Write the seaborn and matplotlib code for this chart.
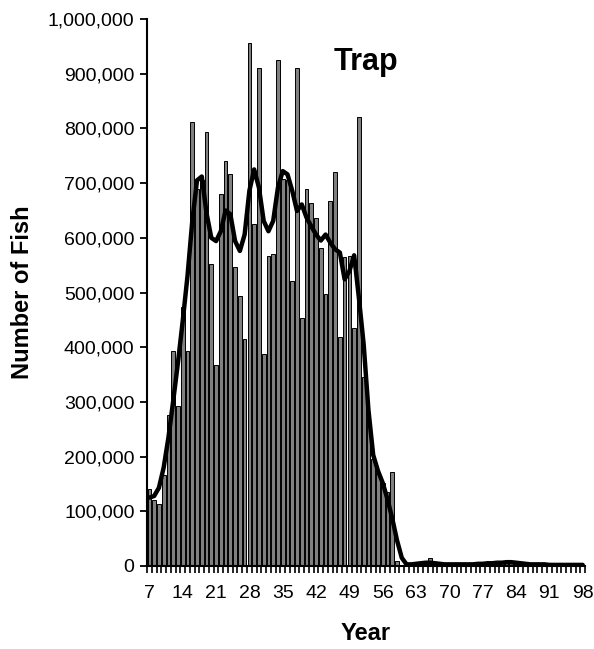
import numpy as np
import pandas as pd
import matplotlib
matplotlib.use("Agg")
import matplotlib.pyplot as plt
import seaborn as sns
from matplotlib.ticker import FuncFormatter, FixedLocator

# Trap catch by year
years = list(range(7, 99))
catch = [
    140000, 121000, 113000, 166000, 276000, 393000, 293000, 474000, 393000, 811000,   # 7-16
    690000, 705000, 793000, 553000, 367000, 680000, 741000, 716000, 546000, 494000,   # 17-26
    415000, 957000, 625000, 911000, 387000, 567000, 571000, 925000, 707000, 705000,   # 27-36
    521000, 911000, 453000, 690000, 663000, 637000, 581000, 497000, 667000, 720000,   # 37-46
    418000, 565000, 567000, 436000, 821000, 345000, 270000, 196000, 172000, 152000,   # 47-56
    135000, 171000, 10000, 2000, 1000, 1000, 3000, 4000, 5000, 15000,                 # 57-66
    4000, 2000, 2000, 1000, 1000, 2000, 2000, 1000, 2000, 3000,                       # 67-76
    3000, 4000, 4000, 5000, 5000, 6000, 6000, 5000, 4000, 3000,                       # 77-86
    2000, 2000, 2000, 2000, 1000, 1000, 1000, 1000, 1000, 1000,                       # 87-96
    1000, 1000,                                                                       # 97-98
]
# Smoothed trend of the catch
trend = [
    125000, 128000, 143000, 180000, 235000, 302000, 372000, 448000, 530000, 630000,   # 7-16
    705000, 712000, 645000, 600000, 594000, 612000, 650000, 643000, 594000, 576000,   # 17-26
    606000, 686000, 725000, 692000, 631000, 612000, 631000, 692000, 722000, 716000,   # 27-36
    686000, 649000, 661000, 637000, 621000, 606000, 595000, 606000, 591000, 579000,   # 37-46
    573000, 524000, 539000, 568000, 490000, 405000, 285000, 203000, 174000, 152000,   # 47-56
    122000, 87000, 47000, 15000, 3000, 3000, 4000, 5000, 6000, 6000,                  # 57-66
    5000, 4000, 3000, 3000, 3000, 3000, 3000, 3000, 3000, 4000,                       # 67-76
    4000, 5000, 5000, 6000, 6000, 7000, 7000, 6000, 5000, 4000,                       # 77-86
    3000, 3000, 3000, 3000, 2000, 2000, 2000, 2000, 2000, 2000,                       # 87-96
    2000, 2000,                                                                       # 97-98
]
y_ticks = [0, 100000, 200000, 300000, 400000, 500000, 600000, 700000, 800000, 900000, 1000000]
label_every = 7

df = pd.DataFrame({"year": years, "catch": catch, "trend": trend})
df["pos"] = np.arange(len(df))

sns.set_theme(style="white")
plt.rcParams["font.family"] = ["Liberation Sans", "DejaVu Sans"]
plt.rcParams["text.color"] = "black"
plt.rcParams["axes.labelcolor"] = "black"
plt.rcParams["xtick.color"] = "black"
plt.rcParams["ytick.color"] = "black"

fig = plt.figure(figsize=(5.94, 6.49), dpi=100)
ax = fig.add_axes([0.2475, 0.1279, 0.7375, 0.8428])

sns.barplot(data=df, x="year", y="catch", order=years, color="#808080",
            saturation=1, width=0.78, edgecolor="black", linewidth=0.7, ax=ax)
sns.lineplot(data=df, x="pos", y="trend", color="black", linewidth=3.2, ax=ax,
             solid_joinstyle="round", solid_capstyle="round")

ax.set_xlim(-0.5, len(years) - 0.5)
ax.set_ylim(0, 1000000)
ax.set_yticks(y_ticks)
ax.yaxis.set_major_formatter(FuncFormatter(lambda v, p: f"{int(v):,}"))

label_pos = [i for i, yr in enumerate(years) if yr % label_every == 0]
ax.xaxis.set_major_locator(FixedLocator(label_pos))
ax.set_xticklabels([str(years[i]) for i in label_pos])
ax.xaxis.set_minor_locator(FixedLocator(np.arange(-0.5, len(years), 1.0)))

ax.tick_params(axis="y", which="major", direction="out", length=5, width=1.3,
               color="black", labelcolor="black", labelsize=14, pad=4, left=True)
ax.tick_params(axis="x", which="major", length=0, labelsize=14, labelcolor="black",
               pad=14, bottom=True)
ax.tick_params(axis="x", which="minor", direction="out", length=5, width=1.2,
               color="black", bottom=True)

for s in ["top", "right"]:
    ax.spines[s].set_visible(False)
for s in ["left", "bottom"]:
    ax.spines[s].set_color("black")
    ax.spines[s].set_linewidth(1.5)

ax.set_xlabel("Year", fontsize=17, fontweight="bold", labelpad=14, color="black")
ax.set_ylabel("Number of Fish", fontsize=17, fontweight="bold", labelpad=10, color="black")
ax.text(0.50, 0.921, "Trap", transform=ax.transAxes, fontsize=22,
        fontweight="bold", ha="center", va="center", color="black")

fig.savefig("out.png", dpi=100)
